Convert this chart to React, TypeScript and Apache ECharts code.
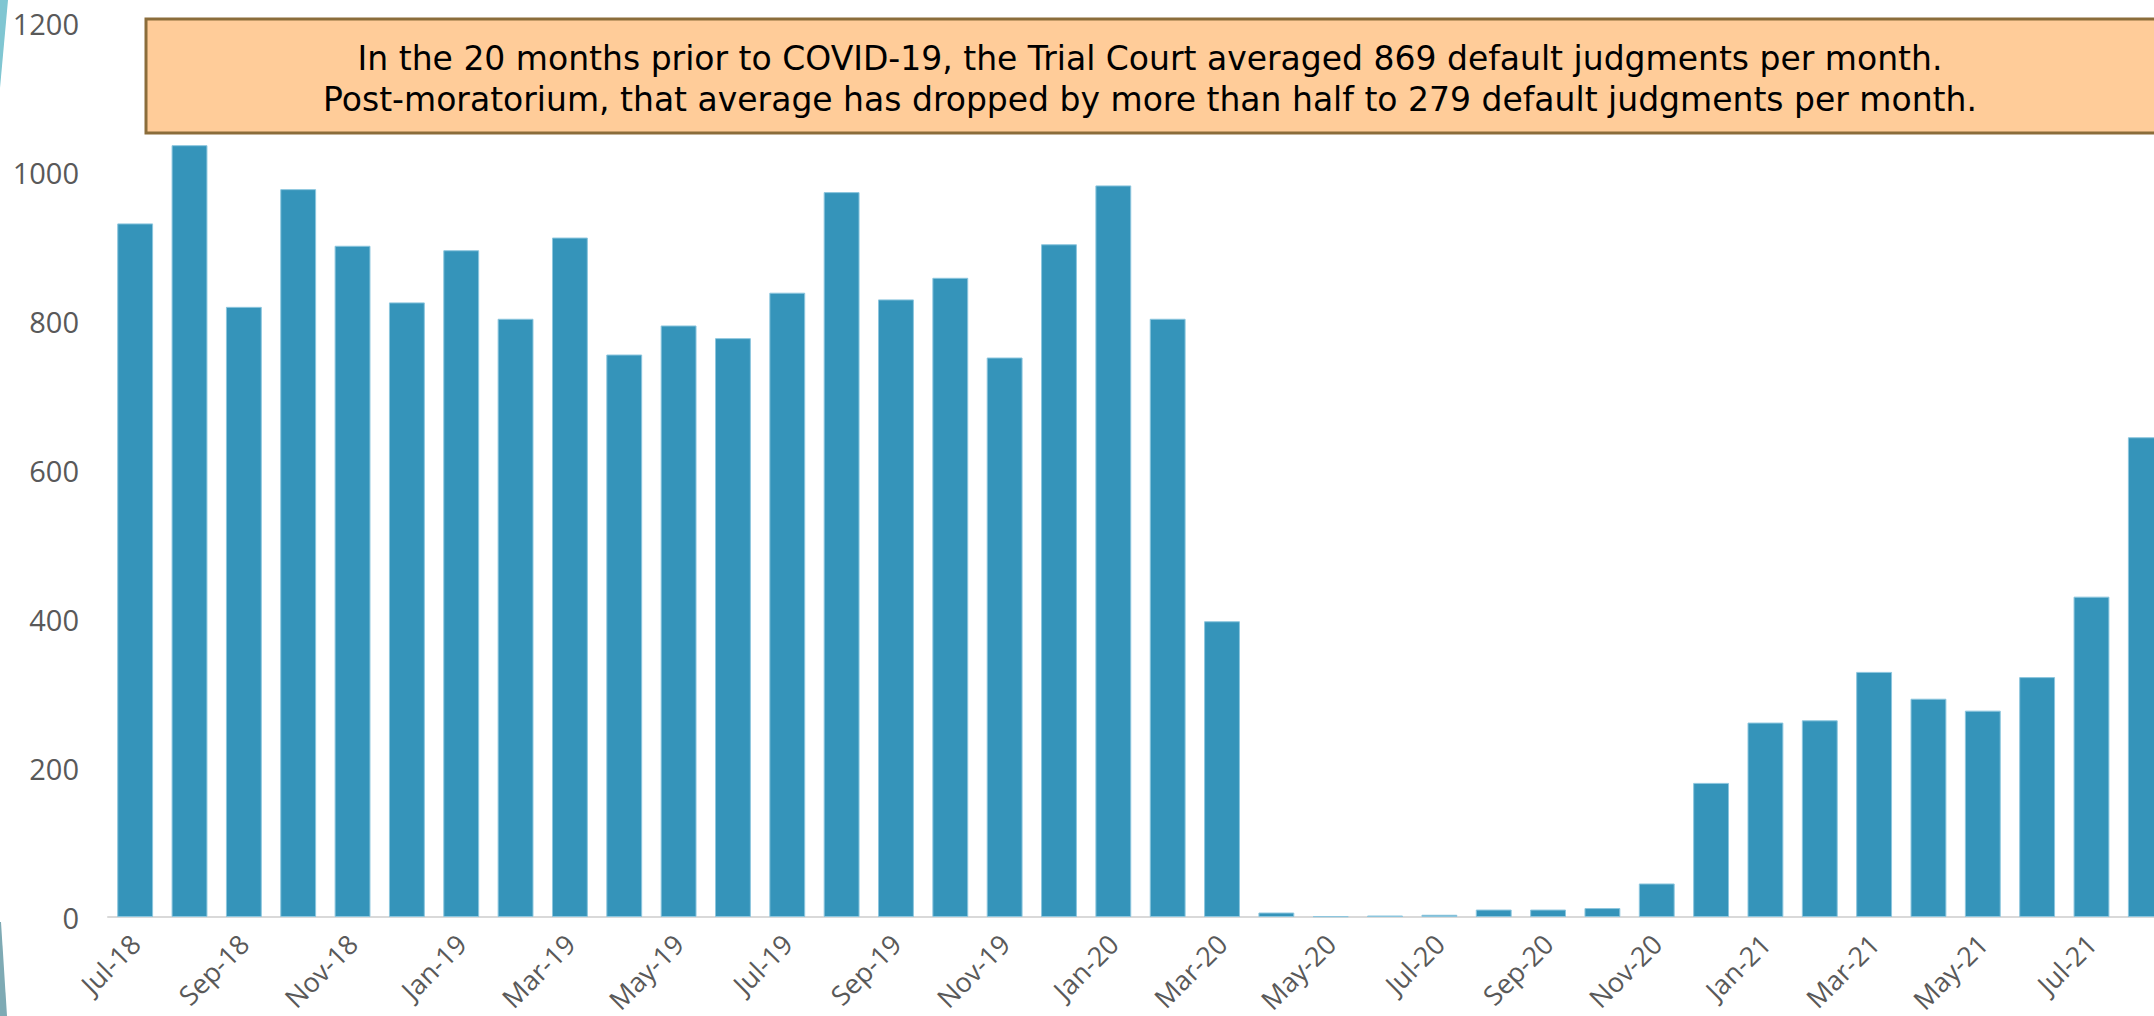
import React, { useEffect, useRef } from "react";
import * as echarts from "echarts";

const months = [
  "Jul-18", "Aug-18", "Sep-18", "Oct-18", "Nov-18", "Dec-18",
  "Jan-19", "Feb-19", "Mar-19", "Apr-19", "May-19", "Jun-19",
  "Jul-19", "Aug-19", "Sep-19", "Oct-19", "Nov-19", "Dec-19",
  "Jan-20", "Feb-20", "Mar-20", "Apr-20", "May-20", "Jun-20",
  "Jul-20", "Aug-20", "Sep-20", "Oct-20", "Nov-20", "Dec-20",
  "Jan-21", "Feb-21", "Mar-21", "Apr-21", "May-21", "Jun-21",
  "Jul-21", "Aug-21",
];

const defaultJudgments = [
  931, 1036, 819, 977, 901, 825,
  895, 803, 912, 755, 794, 777,
  838, 973, 829, 858, 751, 903,
  982, 803, 397, 6, 1, 2,
  3, 10, 10, 12, 45, 180,
  261, 264, 329, 293, 277, 322,
  430, 644,
];

const noteLines = [
  "In the 20 months prior to COVID-19, the Trial Court averaged 869 default judgments per month.",
  "Post-moratorium, that average has dropped by more than half to 279 default judgments per month.",
];

export default function App() {
  const ref = useRef<HTMLDivElement>(null);

  useEffect(() => {
    if (!ref.current) return;
    const chart = echarts.init(ref.current, null, { renderer: "svg" });
    const labelFont = "'Open Sans', 'Noto Sans', sans-serif";
    chart.setOption({
      animation: false,
      backgroundColor: "#ffffff",
      grid: {
        left: 108,
        top: 23,
        width: 2065,
        height: 894,
        containLabel: false,
        outerBoundsMode: "none",
      },
      xAxis: {
        type: "category",
        data: months,
        axisLine: { show: true, lineStyle: { color: "#d9d9d9", width: 2 } },
        axisTick: { show: false },
        axisLabel: {
          interval: 1,
          rotate: 45,
          margin: 22,
          color: "#595959",
          fontSize: 27,
          fontFamily: labelFont,
        },
      },
      yAxis: {
        type: "value",
        min: 0,
        max: 1200,
        interval: 200,
        axisLine: { show: false },
        axisTick: { show: false },
        splitLine: { show: false },
        axisLabel: {
          margin: 29,
          color: "#595959",
          fontSize: 29,
          fontFamily: labelFont,
          formatter: (v: number) => String(v),
        },
      },
      series: [
        {
          type: "bar",
          data: defaultJudgments,
          barCategoryGap: "34%",
          itemStyle: { color: "#3594BA", borderColor: "#8cc6de", borderWidth: 1 },
        },
      ],
      graphic: [
        {
          type: "polygon",
          shape: { points: [[0, 0], [8, 0], [0, 88]] },
          style: { fill: "#80c6d2" },
          silent: true,
        },
        {
          type: "polygon",
          shape: { points: [[0, 922], [1, 922], [7, 1016], [0, 1016]] },
          style: { fill: "#7eaab4" },
          silent: true,
        },
        {
          type: "rect",
          shape: { x: 146, y: 19, width: 2012, height: 114 },
          style: { fill: "#FFCC99", stroke: "#8B6D3B", lineWidth: 3 },
          z: 10,
        },
        {
          type: "text",
          x: 1150,
          y: 58,
          z: 11,
          style: {
            text: noteLines[0],
            fill: "#000000",
            font: "33px 'DejaVu Sans', sans-serif",
            align: "center",
            verticalAlign: "middle",
          },
        },
        {
          type: "text",
          x: 1150,
          y: 99,
          z: 11,
          style: {
            text: noteLines[1],
            fill: "#000000",
            font: "33px 'DejaVu Sans', sans-serif",
            align: "center",
            verticalAlign: "middle",
          },
        },
      ],
    });
    return () => chart.dispose();
  }, []);

  return (
    <div
      ref={ref}
      style={{ position: "fixed", left: 0, top: 0, width: 2154, height: 1016 }}
    />
  );
}
